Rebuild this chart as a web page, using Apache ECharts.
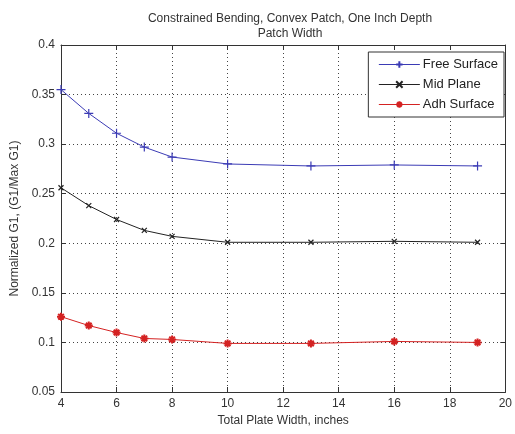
<!DOCTYPE html>
<html><head><meta charset="utf-8">
<script src="https://cdn.jsdelivr.net/npm/echarts@6/dist/echarts.min.js"></script>
<style>html,body{margin:0;padding:0;background:#fff}#c{width:515px;height:434px}</style>
</head><body><div id="c"></div>
<script>
var widths = [4, 5, 6, 7, 8, 10, 13, 16, 19];
var freeSurface = [0.355, 0.331, 0.311, 0.297, 0.287, 0.280, 0.278, 0.279, 0.278];
var midPlane = [0.256, 0.238, 0.224, 0.213, 0.207, 0.201, 0.201, 0.202, 0.201];
var adhSurface = [0.126, 0.117, 0.110, 0.104, 0.103, 0.099, 0.099, 0.101, 0.100];
var seriesNames = ['Free Surface', 'Mid Plane', 'Adh Surface'];
var titleLines = ['Constrained Bending, Convex Patch, One Inch Depth', 'Patch Width'];

function pairs(ys){ return widths.map(function(x,i){return [x, ys[i]];}); }
var FONT = 'Liberation Sans, Arial, sans-serif';
var chart = echarts.init(document.getElementById('c'));
function mk(name, ys, color, sym, size, bw){
  return {
    name: name, type: 'line', data: pairs(ys), symbol: sym, symbolSize: size,
    showAllSymbol: true,
    lineStyle: {color: color, width: 1},
    itemStyle: {color: 'none', borderColor: color, borderWidth: bw},
    emphasis: {disabled: true}, animation: false
  };
}
var grid = {left: 61, right: 6, top: 45, bottom: 42};
chart.setOption({
  animation: false,
  title: {
    text: titleLines.join('\n'), left: 285, top: 6, textAlign: 'center',
    textStyle: {fontFamily: FONT, fontSize: 12, fontWeight: 'normal', color: '#333', lineHeight: 15}
  },
  legend: {
    right: 11, top: 52, orient: 'vertical', itemGap: 5, itemWidth: 41, itemHeight: 8,
    backgroundColor: '#fff', borderColor: '#333', borderWidth: 1, padding: [5, 6, 5, 10],
    textStyle: {fontFamily: FONT, fontSize: 13, color: '#222', padding: [0, 0, 0, -2], lineHeight: 15},
    lineStyle: {width: 1},
    data: seriesNames
  },
  grid: grid,
  xAxis: [{
    type: 'value', min: 4, max: 20, interval: 2,
    name: 'Total Plate Width, inches', nameLocation: 'middle', nameGap: 22,
    nameTextStyle: {fontFamily: FONT, fontSize: 12, color: '#333'},
    axisLine: {onZero: false, lineStyle: {color: '#333'}},
    axisTick: {inside: true, length: 5, lineStyle: {color: '#333'}},
    axisLabel: {fontFamily: FONT, fontSize: 12, color: '#333', margin: 6},
    splitLine: {show: true, lineStyle: {type: [1, 3], color: '#444'}}
  }, {
    type: 'value', min: 4, max: 20, interval: 2, position: 'top',
    axisLine: {onZero: false, lineStyle: {color: '#333'}},
    axisTick: {inside: true, length: 5, lineStyle: {color: '#333'}},
    axisLabel: {show: false}, splitLine: {show: false}
  }],
  yAxis: [{
    type: 'value', min: 0.05, max: 0.4, interval: 0.05,
    name: 'Normalized G1, (G1/Max G1)', nameLocation: 'middle', nameGap: 40,
    nameTextStyle: {fontFamily: FONT, fontSize: 12, color: '#333'},
    axisLine: {show: true, onZero: false, lineStyle: {color: '#333'}},
    axisTick: {show: true, inside: true, length: 5, lineStyle: {color: '#333'}},
    axisLabel: {fontFamily: FONT, fontSize: 12, color: '#333', margin: 6,
      formatter: function(v){ return String(+v.toFixed(2)); }},
    splitLine: {show: true, lineStyle: {type: [1, 3], color: '#444'}}
  }, {
    type: 'value', min: 0.05, max: 0.4, interval: 0.05, position: 'right',
    axisLine: {show: true, onZero: false, lineStyle: {color: '#333'}},
    axisTick: {show: true, inside: true, length: 5, lineStyle: {color: '#333'}},
    axisLabel: {show: false}, splitLine: {show: false}
  }],
  series: [
    mk(seriesNames[0], freeSurface, '#3b3bb5', 'path://M0,-1L0,1M-1,0L1,0', 9, 1.2),
    mk(seriesNames[1], midPlane, '#222222', 'path://M-1,-1L1,1M-1,1L1,-1', 5, 1.2),
    mk(seriesNames[2], adhSurface, '#d42222', 'path://M0,-1L0,1M-1,0L1,0M-0.7,-0.7L0.7,0.7M-0.7,0.7L0.7,-0.7', 8, 2)
  ]
});
</script></body></html>
